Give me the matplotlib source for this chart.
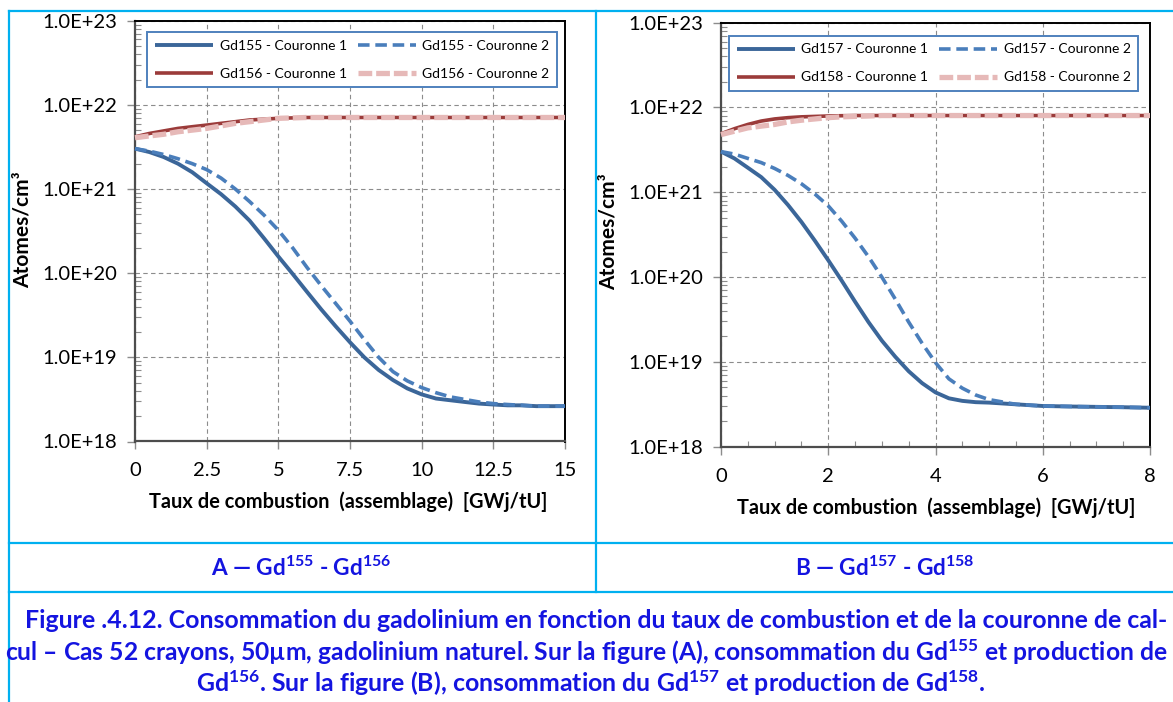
import matplotlib
matplotlib.use("Agg")
import matplotlib.pyplot as plt
from matplotlib.lines import Line2D
from matplotlib.ticker import FixedLocator, NullFormatter, MultipleLocator
from matplotlib import font_manager

# ---------------- data ----------------
x_a = [0, 0.5, 1, 1.5, 2, 2.5, 3, 3.5, 4, 4.5, 5, 5.5, 6, 6.5, 7, 7.5, 8, 8.5,
       9, 9.5, 10, 10.5, 11, 11.5, 12, 12.5, 13, 13.5, 14, 14.5, 15]
gd155_c1 = [3.02e21, 2.75e21, 2.40e21, 2.00e21, 1.58e21, 1.17e21, 8.7e20, 6.2e20,
            4.2e20, 2.6e20, 1.58e20, 9.8e19, 6.0e19, 3.7e19, 2.34e19, 1.51e19,
            1.0e19, 7.08e18, 5.37e18, 4.27e18, 3.63e18, 3.24e18, 3.09e18, 2.95e18,
            2.82e18, 2.75e18, 2.69e18, 2.69e18, 2.63e18, 2.63e18, 2.63e18]
gd155_c2 = [3.02e21, 2.82e21, 2.57e21, 2.29e21, 2.00e21, 1.70e21, 1.35e21, 1.0e21,
            7.08e20, 4.9e20, 3.24e20, 2.0e20, 1.17e20, 7.08e19, 4.37e19, 2.69e19,
            1.62e19, 1.0e19, 6.76e18, 5.25e18, 4.37e18, 3.8e18, 3.39e18, 3.16e18,
            2.95e18, 2.82e18, 2.75e18, 2.69e18, 2.63e18, 2.63e18, 2.63e18]
gd156_c1 = [4.17e21, 4.57e21, 4.90e21, 5.25e21, 5.50e21, 5.75e21, 6.03e21, 6.31e21,
            6.61e21, 6.76e21, 6.92e21, 7.0e21, 7.08e21, 7.08e21, 7.08e21, 7.08e21,
            7.08e21, 7.08e21, 7.08e21, 7.08e21, 7.08e21, 7.08e21, 7.08e21, 7.08e21,
            7.08e21, 7.08e21, 7.08e21, 7.08e21, 7.08e21, 7.08e21, 7.08e21]
gd156_c2 = [4.07e21, 4.27e21, 4.47e21, 4.79e21, 5.01e21, 5.25e21, 5.62e21, 6.03e21,
            6.31e21, 6.61e21, 6.92e21, 7.0e21, 7.08e21, 7.08e21, 7.08e21, 7.08e21,
            7.08e21, 7.08e21, 7.08e21, 7.08e21, 7.08e21, 7.08e21, 7.08e21, 7.08e21,
            7.08e21, 7.08e21, 7.08e21, 7.08e21, 7.08e21, 7.08e21, 7.08e21]

x_b = [0, 0.25, 0.5, 0.75, 1, 1.25, 1.5, 1.75, 2, 2.25, 2.5, 2.75, 3, 3.25, 3.5,
       3.75, 4, 4.25, 4.5, 4.75, 5, 5.5, 6, 6.5, 7, 7.5, 8]
gd157_c1 = [3.02e21, 2.51e21, 1.95e21, 1.51e21, 1.07e21, 7.08e20, 4.47e20, 2.69e20,
            1.58e20, 9.1e19, 5.13e19, 2.95e19, 1.78e19, 1.15e19, 7.76e18, 5.62e18,
            4.37e18, 3.72e18, 3.47e18, 3.35e18, 3.31e18, 3.16e18, 3.02e18, 2.98e18,
            2.95e18, 2.92e18, 2.88e18]
gd157_c2 = [3.02e21, 2.82e21, 2.51e21, 2.24e21, 1.91e21, 1.58e21, 1.26e21, 9.55e20,
            6.92e20, 4.57e20, 2.88e20, 1.74e20, 1.00e20, 5.5e19, 2.95e19, 1.66e19,
            9.8e18, 6.31e18, 4.9e18, 4.07e18, 3.59e18, 3.16e18, 3.02e18, 2.98e18,
            2.95e18, 2.92e18, 2.88e18]
gd158_c1 = [4.90e21, 5.62e21, 6.31e21, 6.92e21, 7.33e21, 7.59e21, 7.76e21, 7.85e21,
            7.94e21, 8.0e21, 8.04e21, 8.04e21, 8.04e21, 8.04e21, 8.04e21, 8.04e21,
            8.04e21, 8.04e21, 8.04e21, 8.04e21, 8.04e21, 8.04e21, 8.04e21, 8.04e21,
            8.04e21, 8.04e21, 8.04e21]
gd158_c2 = [4.79e21, 5.25e21, 5.75e21, 6.03e21, 6.31e21, 6.76e21, 7.08e21, 7.33e21,
            7.59e21, 7.76e21, 7.85e21, 7.94e21, 8.04e21, 8.04e21, 8.04e21, 8.04e21,
            8.04e21, 8.04e21, 8.04e21, 8.04e21, 8.04e21, 8.04e21, 8.04e21, 8.04e21,
            8.04e21, 8.04e21, 8.04e21]

y_ticks = [1e18, 1e19, 1e20, 1e21, 1e22, 1e23]
y_tick_labels = ["1.0E+18", "1.0E+19", "1.0E+20", "1.0E+21", "1.0E+22", "1.0E+23"]
x_ticks_a = [0, 2.5, 5, 7.5, 10, 12.5, 15]
x_tick_labels_a = ["0", "2.5", "5", "7.5", "10", "12.5", "15"]
x_ticks_b = [0, 2, 4, 6, 8]
x_tick_labels_b = ["0", "2", "4", "6", "8"]

labels_a = ["Gd155 - Couronne 1", "Gd155 - Couronne 2", "Gd156 - Couronne 1", "Gd156 - Couronne 2"]
labels_b = ["Gd157 - Couronne 1", "Gd157 - Couronne 2", "Gd158 - Couronne 1", "Gd158 - Couronne 2"]
ylabel = "Atomes/cm³"
xlabel = "Taux de combustion  (assemblage)  [GWj/tU]"
panel_a_title = r"A — Gd$^{\mathbf{155}}$ - Gd$^{\mathbf{156}}$"
panel_b_title = r"B — Gd$^{\mathbf{157}}$ - Gd$^{\mathbf{158}}$"
caption_lines = [
    "Figure .4.12. Consommation du gadolinium en fonction du taux de combustion et de la couronne de cal-",
    r"cul – Cas 52 crayons, 50µm, gadolinium naturel. Sur la figure (A), consommation du Gd$^{\mathbf{155}}$ et production de",
    r"Gd$^{\mathbf{156}}$. Sur la figure (B), consommation du Gd$^{\mathbf{157}}$ et production de Gd$^{\mathbf{158}}$.",
]

# ---------------- styling ----------------
def has_font(name):
    try:
        font_manager.findfont(name, fallback_to_default=False)
        return True
    except Exception:
        return False

FONT = "Lato" if has_font("Lato") else "DejaVu Sans"
plt.rcParams["font.family"] = [FONT, "DejaVu Sans"]
plt.rcParams["mathtext.fontset"] = "custom"
plt.rcParams["mathtext.rm"] = FONT
plt.rcParams["mathtext.bf"] = FONT + ":bold"
plt.rcParams["mathtext.it"] = FONT + ":italic"

C_BLUE1 = "#3B6699"
C_BLUE2 = "#4A7EBB"
C_RED1 = "#9B3B3A"
C_PINK2 = "#E6B9B8"
C_TABLE = "#00B0F0"
C_CAPTION = "#1414E0"
C_GRID = "#8C8C8C"

W, H = 1173, 702
fig = plt.figure(figsize=(W / 100, H / 100), dpi=100)
fig.patch.set_facecolor("white")


def rect(l, t, r, b):
    return [l / W, 1 - b / H, (r - l) / W, (b - t) / H]


def setup_axes(ax, xlim, xt, xtl, minor_x):
    ax.set_yscale("log")
    ax.set_ylim(1e18, 1e23)
    ax.set_xlim(*xlim)
    ax.yaxis.set_major_locator(FixedLocator(y_ticks))
    ax.set_yticklabels(y_tick_labels)
    ax.yaxis.set_minor_locator(FixedLocator(
        [m * 10.0 ** e for e in range(18, 23) for m in range(2, 10)]))
    ax.yaxis.set_minor_formatter(NullFormatter())
    ax.set_xticks(xt)
    ax.set_xticklabels(xtl)
    if minor_x:
        ax.xaxis.set_minor_locator(MultipleLocator(minor_x))
    ax.tick_params(axis="both", which="major", direction="out", length=6,
                   width=1.0, color="#8C8C8C", labelsize=14.5, pad=7)
    ax.tick_params(axis="y", which="minor", direction="in", length=4,
                   width=0.8, color="#8C8C8C")
    ax.tick_params(axis="x", which="minor", direction="in", length=4,
                   width=0.8, color="#8C8C8C")
    ax.tick_params(axis="x", which="major", pad=9)
    ax.grid(True, which="major", color=C_GRID, linestyle=(0, (4, 3)), linewidth=0.8)
    ax.set_axisbelow(True)
    for s in ("top", "right"):
        ax.spines[s].set_color("black")
        ax.spines[s].set_linewidth(1.4)
    for s in ("left", "bottom"):
        ax.spines[s].set_color("#4D4D4D")
        ax.spines[s].set_linewidth(1.6)


def draw_series(ax, x, c1, c2, r1, r2):
    h1, = ax.plot(x, c1, color=C_BLUE1, lw=2.8, solid_capstyle="butt",
                  solid_joinstyle="round", clip_on=False, zorder=3)
    h2, = ax.plot(x, c2, color=C_BLUE2, lw=2.6, linestyle=(0, (3.2, 1.6)),
                  dash_capstyle="butt", clip_on=False, zorder=4)
    h3, = ax.plot(x, r1, color=C_RED1, lw=2.6, solid_capstyle="butt",
                  solid_joinstyle="round", clip_on=False, zorder=3)
    h4, = ax.plot(x, r2, color=C_PINK2, lw=3.8, linestyle=(0, (2.6, 0.75)),
                  dash_capstyle="butt", clip_on=False, zorder=4)
    return [h1, h2, h3, h4]


def add_legend(ax, handles, labels, bbox):
    # matplotlib fills legend columns first: reorder so that rows read like the reference
    order = [0, 2, 1, 3]
    leg = ax.legend([handles[i] for i in order], [labels[i] for i in order], ncol=2,
                    loc="upper left", bbox_to_anchor=bbox,
                    mode="expand", fontsize=10, frameon=True, fancybox=False,
                    handlelength=4.2, handletextpad=0.45, borderpad=0.55,
                    labelspacing=1.15, columnspacing=1.2, borderaxespad=0)
    fr = leg.get_frame()
    fr.set_edgecolor("#4F81BD")
    fr.set_linewidth(1.4)
    fr.set_facecolor("white")
    fr.set_alpha(1)
    leg.set_zorder(10)
    return leg


# Panel A
ax_a = fig.add_axes(rect(135, 20.7, 565, 441.5))
setup_axes(ax_a, (0, 15), x_ticks_a, x_tick_labels_a, None)
ha = draw_series(ax_a, x_a, gd155_c1, gd155_c2, gd156_c1, gd156_c2)
add_legend(ax_a, ha, labels_a, (0.029, 0.973, 0.953, 0.0))

# Panel B
ax_b = fig.add_axes(rect(721, 22.7, 1150, 446.7))
setup_axes(ax_b, (0, 8), x_ticks_b, x_tick_labels_b, 0.5)
hb = draw_series(ax_b, x_b, gd157_c1, gd157_c2, gd158_c1, gd158_c2)
add_legend(ax_b, hb, labels_b, (0.0186, 0.969, 0.954, 0.0))


def ftext(x, y, s, **kw):
    return fig.text(x / W, 1 - y / H, s, **kw)


# axis labels
ftext(23, 230, ylabel, rotation=90, ha="center", va="center", fontsize=15, fontweight="bold")
ftext(609, 232, ylabel, rotation=90, ha="center", va="center", fontsize=15, fontweight="bold")
ftext(348, 502, xlabel, ha="center", va="center", fontsize=14.4, fontweight="bold")
ftext(936, 508, xlabel, ha="center", va="center", fontsize=14.4, fontweight="bold")

# table lines
def hline(y, x0, x1):
    fig.add_artist(Line2D([x0 / W, x1 / W], [1 - y / H, 1 - y / H], color=C_TABLE, lw=1.6))


def vline(x, y0, y1):
    fig.add_artist(Line2D([x / W, x / W], [1 - y0 / H, 1 - y1 / H], color=C_TABLE, lw=1.6))


hline(10.5, 9, W)
hline(543, 9, W)
hline(592, 9, W)
vline(9, 10.5, H)
vline(596, 10.5, 592)

# panel titles
ta = ftext(301, 568, panel_a_title, ha="center", va="center", fontsize=15,
           fontweight="bold", color=C_CAPTION)
tb = ftext(885, 568, panel_b_title, ha="center", va="center", fontsize=15,
           fontweight="bold", color=C_CAPTION)

# caption
cap_pos = [(596, 621), (586, 652), (591, 683)]
cap = []
for s, (x, y) in zip(caption_lines, cap_pos):
    cap.append(ftext(x, y, s, ha="center", va="center", fontsize=15,
                     fontweight="bold", color=C_CAPTION))

# fit caption font sizes to the reference widths
fig.canvas.draw()
r = fig.canvas.get_renderer()
w0 = cap[0].get_window_extent(r).width
fs = 15 * 1148.0 / w0
cap[0].set_fontsize(fs)
cap[2].set_fontsize(fs)
w1 = cap[1].get_window_extent(r).width
cap[1].set_fontsize(min(fs, 15 * 1164.0 / w1))
wa = ta.get_window_extent(r).width
fsa = 15 * 181.0 / wa
ta.set_fontsize(fsa)
tb.set_fontsize(fsa)

fig.savefig("out.png", dpi=100, facecolor="white")
